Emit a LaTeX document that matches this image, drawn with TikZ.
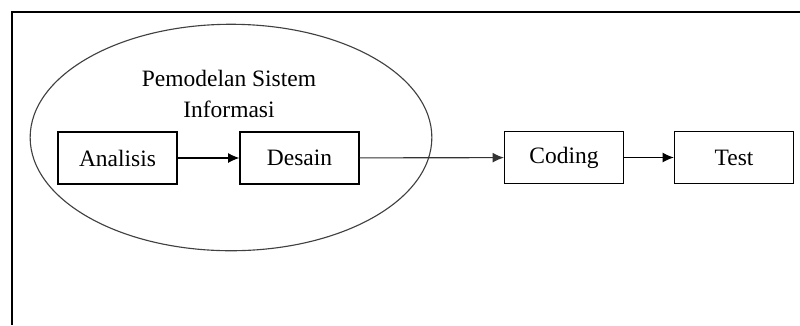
\documentclass[tikz,border=0pt]{standalone}
\usepackage{fontspec}
\setmainfont{Liberation Serif}
\usetikzlibrary{shapes.geometric,arrows.meta}
\begin{document}
\begin{tikzpicture}[x=0.025cm,y=-0.025cm,
	tahap/.style={draw, thick, minimum width=2.975cm, minimum height=1.3cm, font=\fontsize{16.7}{19}\selectfont},
	panah/.style={-{Latex[length=8pt,width=7pt]}, thick}]
		\useasboundingbox (0,0) rectangle (800,325);
		\draw[line width=1.4pt] (800,12) -- (12,12) -- (12,325);

		\draw[thick, black!75] (231,137.5) ellipse [x radius=5.02cm, y radius=2.83cm];
		\node[align=center, font=\fontsize{16.7}{22}\selectfont] (judul) at (229,94) {Pemodelan Sistem\\Informasi};

		\node[tahap] (analisis) at (117.5,158) {Analisis};
		\node[tahap] (desain) at (299.5,158) {Desain};
		\node[tahap] (coding) at (564,157.5) {Coding};
		\node[tahap] (test) at (734,157.5) {Test};

		\draw[panah] (analisis) -- (desain);
		\draw[panah, black!80] (desain) -- (coding);
		\draw[panah] (coding) -- (test);
	\end{tikzpicture}
\end{document}
